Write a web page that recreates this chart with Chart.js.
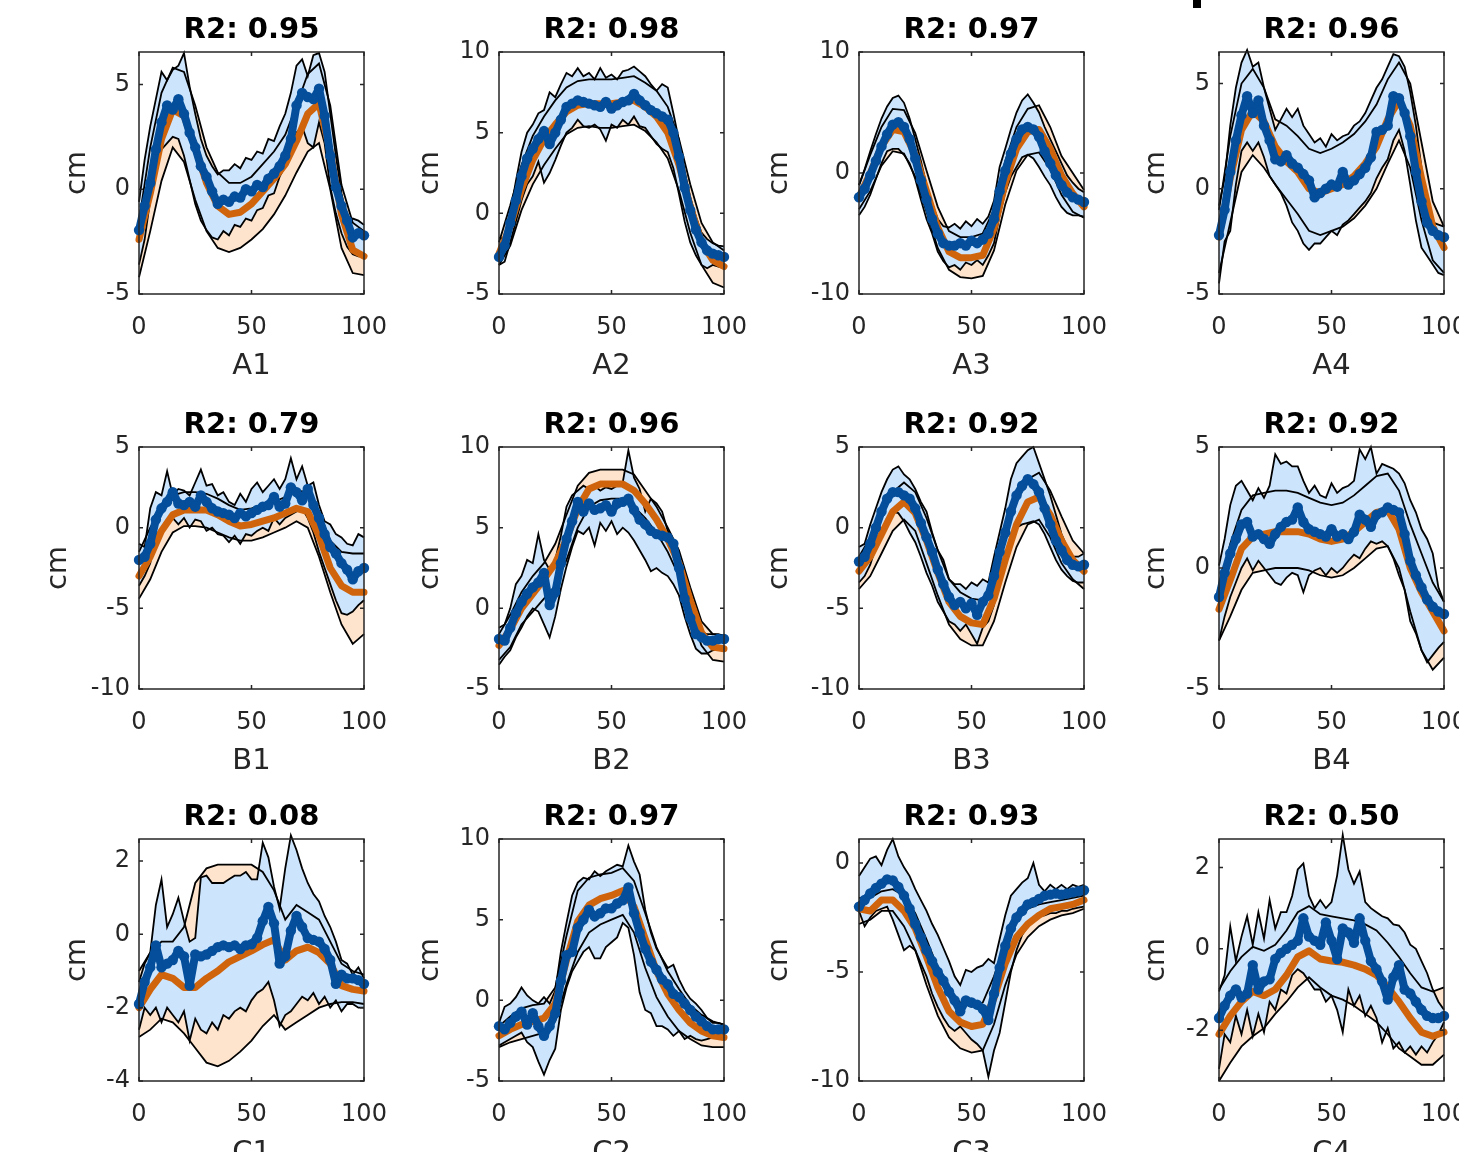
<!DOCTYPE html>
<html>
<head>
<meta charset="utf-8">
<title>R2 panels</title>
<script src="https://cdn.jsdelivr.net/npm/chart.js@4.4.1/dist/chart.umd.min.js"></script>
<style>
  html, body { margin: 0; padding: 0; background: #fff; overflow: hidden; }
  body { width: 1459px; height: 1152px; position: relative; }
  canvas.panel { position: absolute; }
  #mark { position: absolute; left: 1193px; top: 0; width: 8px; height: 8px; background: #000; }
</style>
</head>
<body>
<div id="mark"></div>
<script>
// x positions (percent of cycle)
const xsOrange = [0,5,10,15,20,25,30,35,40,45,50,55,60,65,70,75,80,85,90,95,100];
const xsBlue = [0,2.5,5,7.5,10,12.5,15,17.5,20,22.5,25,27.5,30,32.5,35,37.5,40,42.5,45,47.5,
                50,52.5,55,57.5,60,62.5,65,67.5,70,72.5,75,77.5,80,82.5,85,87.5,90,92.5,95,97.5,100];

// ---- A1
const a1OrangeMean = [-2.4,-0.2,2.4,3.8,3.5,2.0,0.3,-0.8,-1.2,-1.1, -0.7,-0.1,0.5,1.2,2.3,3.6,4.1,1.8,-1.2,-2.9, -3.2];
const a1OrangeHi = [-1.5,2.0,4.6,5.8,5.6,4.0,2.0,0.8,0.3,0.3, 0.6,1.2,1.8,2.6,4.0,5.5,6.0,4.0,0.2,-1.6, -2.0];
const a1OrangeLo = [-4.2,-2.0,0.4,2.0,1.3,-0.5,-2.0,-2.8,-3.0,-2.8, -2.4,-1.9,-1.2,-0.3,0.8,1.8,2.2,0.0,-2.8,-4.0, -4.1];
const a1BlueMean = [
  -1.95,-0.8,0.3,1.9,3.2,4.0,3.8,4.3,3.6,2.7,
  2.0,1.1,0.6,-0.1,-0.7,-0.5,-0.6,-0.35,-0.4,0.0,
  -0.1,0.2,0.1,0.5,0.75,1.1,1.6,2.4,4.0,4.6,
  4.4,4.3,4.8,3.5,1.6,0.1,-0.8,-1.5,-2.3,-2.1,
  -2.2];
const a1BlueHi = [
  -0.6,1.4,3.0,4.3,5.6,5.2,5.7,5.9,6.5,4.9,
  3.6,2.4,1.6,1.1,0.7,0.9,0.9,1.2,1.0,1.5,
  1.4,1.8,1.7,2.4,2.3,3.0,3.6,4.6,5.9,6.2,
  5.4,6.4,6.5,5.6,3.6,1.6,-0.2,-1.5,-1.4,-1.5,
  -1.7];
const a1BlueLo = [
  -3.6,-2.4,-0.5,1.1,1.9,2.2,2.5,2.4,1.6,0.45,
  -0.7,-1.5,-1.95,-2.3,-2.4,-2.0,-2.2,-1.7,-1.8,-1.4,
  -1.5,-1.0,-0.9,-0.3,-0.2,0.6,1.1,1.7,2.7,3.0,
  2.2,2.0,3.2,2.2,0.1,-1.15,-2.1,-2.75,-3.1,-3.2,
  -3.2];

// ---- A2
const a2OrangeMean = [-2.5,-0.8,1.5,3.3,4.6,5.5,6.3,6.7,6.8,6.8, 6.8,6.9,7.0,6.6,6.0,5.0,3.0,0.4,-1.8,-2.9, -3.3];
const a2OrangeHi = [-1.8,0.5,3.0,4.8,6.0,7.0,7.8,8.2,8.3,8.3, 8.3,8.4,8.5,8.1,7.6,6.6,4.6,1.8,-0.6,-1.8, -2.3];
const a2OrangeLo = [-3.2,-2.0,0.2,1.8,3.0,4.0,4.9,5.3,5.4,5.3, 5.3,5.4,5.5,5.1,4.4,3.4,1.4,-1.2,-3.2,-4.3, -4.6];
const a2BlueMean = [
  -2.7,-2.0,-0.6,0.8,2.3,3.4,4.0,4.6,5.1,4.3,
  5.0,5.8,6.6,6.8,7.0,6.9,6.8,6.7,6.6,6.9,
  6.5,6.7,6.9,7.0,7.4,7.0,6.7,6.4,6.2,6.0,
  5.8,5.0,3.5,1.6,0.2,-1.0,-1.8,-2.3,-2.5,-2.6,
  -2.7];
const a2BlueHi = [
  -1.5,-1.6,0.0,2.0,3.8,5.0,5.5,6.2,6.4,7.5,
  7.2,8.0,8.7,8.5,9.0,8.5,8.7,8.3,9.0,8.4,
  8.6,8.3,8.8,8.9,9.1,8.8,8.5,8.0,7.6,8.0,
  7.8,6.2,4.5,2.6,1.0,-0.2,-1.2,-1.6,-1.85,-2.0,
  -2.05];
const a2BlueLo = [
  -3.2,-3.0,-1.8,-0.5,0.8,1.8,2.3,3.2,1.9,2.5,
  3.3,4.2,5.0,5.3,5.8,5.4,5.3,5.5,5.2,4.5,
  5.5,5.3,5.8,5.5,6.0,5.4,5.3,4.8,4.3,4.0,
  3.8,2.8,1.2,-0.5,-1.8,-2.6,-3.2,-3.4,-3.2,-3.3,
  -3.4];

// ---- A3
const a3OrangeMean = [-2.0,0.0,2.2,3.6,3.4,1.5,-1.5,-4.5,-6.5,-7.0, -7.0,-6.8,-4.6,-0.8,2.0,3.4,3.6,2.0,-0.2,-1.7, -2.8];
const a3OrangeHi = [-1.0,1.5,3.8,5.3,5.2,3.3,0.2,-2.8,-4.8,-5.3, -5.3,-5.0,-3.0,1.0,3.8,5.3,5.6,3.8,1.4,0.0, -1.4];
const a3OrangeLo = [-3.0,-1.5,0.6,1.8,1.6,-0.3,-3.2,-6.2,-8.0,-8.6, -8.7,-8.5,-6.4,-2.6,0.2,1.5,1.7,0.3,-1.8,-3.2, -3.7];
const a3BlueMean = [
  -2.0,-1.3,-0.2,1.0,2.2,3.2,4.0,4.2,3.8,2.8,
  1.2,-0.6,-2.2,-3.8,-5.0,-5.8,-6.0,-6.0,-5.8,-6.0,
  -5.6,-5.8,-5.5,-5.0,-3.8,-1.5,0.2,1.6,2.8,3.6,
  3.8,3.6,3.0,1.8,0.8,-0.2,-1.0,-1.6,-2.0,-2.2,
  -2.4];
const a3BlueHi = [
  -1.0,0.3,1.8,3.2,4.5,5.5,6.2,6.4,5.8,4.5,
  2.8,1.0,-1.0,-2.5,-3.8,-4.4,-4.5,-4.2,-4.6,-4.0,
  -4.4,-3.8,-4.2,-3.6,-2.3,0.5,2.0,3.6,5.0,6.0,
  6.5,5.8,5.0,3.8,2.8,1.8,0.8,-0.2,-0.8,-1.3,
  -1.6];
const a3BlueLo = [
  -3.5,-2.8,-1.8,-0.5,0.8,1.8,2.0,2.0,1.5,0.8,
  -0.5,-2.2,-3.8,-5.0,-6.5,-7.3,-7.8,-7.6,-8.0,-7.4,
  -7.6,-7.2,-7.6,-6.8,-5.8,-3.5,-1.6,-0.3,0.5,1.3,
  1.5,1.2,0.5,-0.3,-1.0,-2.0,-2.8,-3.3,-3.5,-3.5,
  -3.6];

// ---- A4
const a4OrangeMean = [-2.3,0.5,2.8,3.7,3.2,2.0,1.3,0.8,0.0,-0.2, 0.0,0.2,0.6,1.2,2.0,3.3,4.2,3.0,0.5,-1.8, -2.8];
const a4OrangeHi = [-1.0,2.5,5.0,5.7,4.8,3.3,3.0,2.5,1.9,1.7, 1.9,2.2,2.6,3.2,4.0,5.2,6.0,5.0,2.2,-0.6, -1.8];
const a4OrangeLo = [-4.0,-1.6,0.8,1.6,1.0,0.2,-0.5,-1.2,-2.0,-2.2, -2.0,-1.8,-1.4,-0.8,0.0,1.2,2.3,1.0,-1.5,-3.4, -4.0];
const a4BlueMean = [
  -2.2,-1.0,0.8,2.3,3.5,4.4,3.6,4.2,3.0,2.3,
  1.4,1.3,1.6,1.2,1.0,0.7,0.4,-0.4,-0.2,0.0,
  0.2,0.1,0.8,0.2,0.4,0.7,1.0,1.5,2.7,2.8,
  3.0,4.4,4.3,3.6,2.5,0.8,-0.6,-1.6,-2.0,-2.2,
  -2.3];
const a4BlueHi = [
  -0.8,0.5,3.0,4.8,6.0,6.6,5.8,6.0,4.8,3.8,
  2.8,3.3,3.8,3.4,3.8,3.0,2.6,2.2,2.4,2.0,
  2.6,2.3,2.5,2.6,3.0,3.2,3.6,4.2,4.8,5.2,
  5.8,6.4,6.3,5.8,4.6,3.0,1.0,-0.6,-1.6,-1.7,
  -1.8];
const a4BlueLo = [
  -4.5,-2.5,-2.0,0.2,1.8,2.2,1.8,2.2,1.5,0.6,
  0.2,-0.2,-0.8,-1.6,-2.0,-2.6,-2.9,-2.6,-2.6,-2.3,
  -2.0,-2.2,-1.7,-1.5,-1.2,-0.9,-0.6,-0.2,0.5,1.0,
  1.4,2.3,2.8,1.8,0.2,-1.5,-2.8,-3.2,-3.6,-4.0,
  -4.1];

// ---- B1
const b1OrangeMean = [-3.0,-1.8,-0.2,0.8,1.1,1.1,1.1,0.8,0.4,0.1, 0.2,0.4,0.6,0.9,1.2,1.0,-0.5,-2.5,-3.6,-4.0, -4.0];
const b1OrangeHi = [-1.5,0.0,1.2,2.0,2.2,2.2,2.1,1.8,1.4,1.1, 1.2,1.4,1.6,1.9,2.3,2.2,1.0,-0.8,-1.5,-1.6, -1.6];
const b1OrangeLo = [-4.4,-3.2,-1.5,-0.3,0.1,0.1,0.0,-0.3,-0.6,-0.8, -0.8,-0.6,-0.3,0.0,0.4,0.0,-1.8,-4.0,-6.0,-7.2, -6.6];
const b1BlueMean = [
  -2.0,-1.8,-1.0,0.5,1.2,1.6,2.2,1.5,1.4,1.6,
  1.3,2.0,1.6,1.2,1.0,0.9,0.8,0.6,0.9,0.7,
  0.9,1.1,1.3,1.4,1.9,1.3,1.5,2.5,2.2,1.7,
  2.4,1.4,0.6,-0.4,-1.2,-1.6,-2.2,-2.6,-3.2,-2.7,
  -2.5];
const b1BlueHi = [
  -1.0,-1.2,1.2,2.2,2.0,3.5,2.0,2.4,2.3,2.0,
  2.8,3.6,2.6,2.7,2.0,2.2,1.6,1.4,2.1,1.6,
  2.4,2.8,2.2,2.6,3.0,2.4,3.0,4.3,3.0,3.8,
  2.6,2.8,1.4,0.4,0.2,-0.4,-0.6,-1.0,-1.1,-0.4,
  -0.6];
const b1BlueLo = [
  -3.6,-3.0,-2.2,-0.5,0.0,0.5,0.6,0.2,0.6,0.0,
  0.5,0.4,-0.2,0.0,-0.4,-0.5,-0.9,-0.5,-1.0,-0.4,
  -0.5,-0.2,0.0,-0.2,0.6,0.2,0.6,0.8,1.0,1.2,
  0.6,-0.3,-1.5,-2.5,-3.5,-4.5,-5.3,-5.4,-5.2,-4.8,
  -4.5];

// ---- B2
const b2OrangeMean = [-2.3,-1.3,0.0,0.9,1.8,2.8,4.3,6.2,7.4,7.7, 7.7,7.7,7.3,6.5,5.5,4.3,2.8,0.5,-1.5,-2.4, -2.5];
const b2OrangeHi = [-1.6,-0.4,1.0,2.0,2.8,4.0,5.8,7.6,8.4,8.6, 8.6,8.6,8.3,7.3,6.3,5.0,3.6,1.3,-0.8,-1.6, -1.7];
const b2OrangeLo = [-3.2,-2.4,-1.0,-0.2,0.6,1.4,3.0,5.0,6.3,6.7, 6.8,6.8,6.3,5.6,4.7,3.5,2.0,-0.3,-2.3,-3.2, -3.3];
const b2BlueMean = [
  -1.9,-2.0,-1.2,-0.3,0.4,0.9,1.3,1.6,2.2,0.2,
  1.0,2.8,4.3,5.4,6.6,6.0,6.5,6.1,6.2,6.4,
  6.0,6.5,6.6,6.8,6.1,5.5,5.2,4.8,4.6,4.5,
  4.4,4.0,2.5,0.6,-0.6,-1.6,-1.8,-2.0,-2.0,-1.9,
  -1.9];
const b2BlueHi = [
  -1.2,-1.0,0.0,1.5,2.0,3.0,2.8,4.6,3.0,2.4,
  3.0,4.5,6.3,7.0,7.3,7.6,7.4,7.6,7.3,7.5,
  7.4,7.6,7.8,9.8,8.1,7.4,6.0,6.8,6.5,6.0,
  4.8,4.0,3.0,2.0,0.5,-0.8,-1.5,-1.6,-1.6,-1.6,
  -1.7];
const b2BlueLo = [
  -3.5,-3.0,-2.6,-1.8,-1.2,-0.5,0.0,-0.2,-1.0,-1.8,
  -0.5,1.2,2.6,3.8,4.8,4.6,5.0,3.9,5.3,4.8,
  5.4,4.6,5.0,4.7,4.2,3.6,3.0,2.3,2.5,2.2,
  2.0,1.5,0.8,-0.5,-1.6,-2.5,-2.8,-2.8,-2.6,-2.5,
  -2.4];

// ---- B3
const b3OrangeMean = [-2.7,-1.8,-0.4,1.0,1.6,0.9,-0.8,-2.8,-4.6,-5.5, -5.9,-6.0,-4.4,-2.0,0.2,1.6,1.9,0.8,-0.8,-2.0, -2.7];
const b3OrangeHi = [-1.8,-0.6,0.8,2.2,2.8,2.2,0.6,-1.4,-3.2,-4.0, -4.4,-4.5,-3.0,-0.6,1.6,3.0,3.4,2.3,0.7,-0.8, -1.6];
const b3OrangeLo = [-3.8,-3.0,-1.6,-0.2,0.5,-0.2,-2.2,-4.2,-6.0,-6.9, -7.3,-7.3,-5.8,-3.4,-1.2,0.2,0.5,-0.6,-2.2,-3.2, -3.8];
const b3BlueMean = [
  -2.1,-1.8,-1.0,0.0,1.0,1.8,2.2,2.2,2.0,1.8,
  1.2,0.3,-0.6,-1.5,-2.6,-3.5,-4.3,-4.8,-4.6,-5.0,
  -4.7,-5.4,-4.6,-4.2,-3.0,-1.5,-0.3,1.0,2.0,2.6,
  3.0,2.7,2.2,1.2,0.2,-0.8,-1.4,-2.0,-2.3,-2.4,
  -2.3];
const b3BlueHi = [
  -1.2,-1.0,0.2,1.2,2.2,3.0,3.6,3.8,3.3,3.0,
  2.4,1.6,1.0,-0.3,-1.4,-2.0,-3.2,-3.5,-3.5,-3.8,
  -3.4,-3.6,-3.2,-3.4,-1.8,-0.3,1.2,3.0,4.0,4.4,
  4.8,5.0,4.0,3.0,2.0,0.8,-0.4,-1.2,-1.8,-1.8,
  -1.6];
const b3BlueLo = [
  -3.4,-3.0,-2.3,-1.2,-0.2,0.6,1.0,0.9,0.4,-0.3,
  -0.9,-1.8,-2.8,-3.6,-4.6,-5.2,-5.8,-6.0,-6.4,-6.0,
  -6.6,-7.2,-6.2,-5.8,-4.8,-3.2,-2.0,-0.8,0.0,0.2,
  0.3,0.4,0.2,-0.4,-1.2,-2.0,-2.6,-3.0,-3.3,-3.4,
  -3.4];

// ---- B4
const b4OrangeMean = [-1.7,-0.5,0.8,1.3,1.4,1.5,1.5,1.5,1.4,1.2, 1.1,1.2,1.5,1.9,2.3,2.4,1.6,0.0,-1.0,-1.8, -2.6];
const b4OrangeHi = [-0.8,1.0,2.4,3.0,3.1,3.2,3.2,3.1,2.9,2.7, 2.6,2.7,3.0,3.4,3.8,3.9,3.2,1.8,0.6,-0.6, -1.4];
const b4OrangeLo = [-3.0,-2.0,-0.9,-0.2,-0.1,0.0,0.0,0.0,-0.1,-0.3, -0.4,-0.3,0.0,0.4,0.8,0.9,0.0,-1.8,-3.4,-4.2, -3.7];
const b4BlueMean = [
  -1.2,-0.2,0.6,1.2,1.8,1.9,1.3,1.4,1.2,1.0,
  1.4,1.7,1.9,2.0,2.5,1.9,1.6,1.5,1.4,1.3,
  1.6,1.3,1.4,1.2,1.5,2.2,2.0,1.7,2.2,2.3,
  2.5,2.4,2.3,1.4,0.3,-0.3,-0.8,-1.3,-1.6,-1.8,
  -1.9];
const b4BlueHi = [
  0.1,1.2,2.6,3.4,3.6,3.2,2.8,3.3,2.9,3.4,
  4.7,4.3,4.4,4.2,4.2,3.6,3.1,3.4,3.0,2.9,
  3.5,3.1,3.3,3.4,3.6,4.9,4.5,5.0,3.9,4.3,
  4.2,4.1,3.9,3.5,2.8,2.3,1.6,1.2,0.6,-0.8,
  -1.4];
const b4BlueLo = [
  -3.0,-2.0,-1.2,-0.6,0.0,0.4,-0.1,0.3,0.0,-0.3,
  -0.6,-0.7,-0.4,-0.2,-0.3,-1.0,-0.3,-0.1,0.0,-0.3,
  0.0,-0.2,0.0,0.3,0.55,0.4,0.8,1.1,1.0,1.1,
  0.9,0.4,-0.3,-0.9,-2.2,-2.7,-3.4,-3.9,-3.6,-3.3,
  -3.05];

// ---- C1
const c1OrangeMean = [-2.0,-1.5,-1.1,-1.2,-1.45,-1.45,-1.2,-1.0,-0.75,-0.6, -0.45,-0.28,-0.15,-0.7,-0.45,-0.35,-0.5,-0.8,-1.4,-1.5, -1.55];
const c1OrangeHi = [-1.0,-0.5,-0.2,-0.2,0.2,1.4,1.8,1.9,1.9,1.9, 1.9,1.7,1.2,0.4,0.8,0.6,0.4,-0.2,-0.8,-1.0, -1.1];
const c1OrangeLo = [-2.8,-2.6,-2.3,-2.4,-2.7,-3.1,-3.5,-3.6,-3.45,-3.2, -2.9,-2.5,-2.2,-2.6,-2.4,-2.2,-2.0,-1.9,-1.85,-1.85, -1.9];
const c1BlueMean = [
  -1.9,-1.3,-0.9,-0.3,-0.9,-0.8,-0.7,-0.45,-0.6,-1.4,
  -0.55,-0.6,-0.55,-0.45,-0.35,-0.3,-0.35,-0.3,-0.4,-0.3,
  -0.27,-0.1,0.36,0.75,0.3,-0.8,-0.6,0.1,0.5,0.2,
  -0.1,-0.15,-0.2,-0.4,-0.7,-1.35,-1.1,-1.2,-1.2,-1.25,
  -1.35];
const c1BlueHi = [
  -1.3,-0.8,-0.5,0.8,1.5,0.2,0.55,1.0,0.36,-0.2,
  -0.1,1.55,1.6,1.4,1.4,1.4,1.5,1.6,1.6,1.7,
  1.5,1.5,2.5,2.1,1.3,0.7,1.8,2.7,2.3,1.8,
  1.4,1.1,0.9,0.5,0.2,-0.2,-0.7,-0.8,-1.1,-0.9,
  -1.2];
const c1BlueLo = [
  -2.6,-2.0,-2.2,-2.0,-2.4,-2.0,-2.2,-2.4,-2.1,-2.9,
  -2.3,-2.6,-2.7,-2.4,-2.6,-2.2,-2.3,-2.1,-2.0,-2.1,
  -1.8,-1.6,-1.5,-1.3,-1.8,-2.5,-2.2,-2.1,-1.9,-1.7,
  -1.8,-1.6,-1.9,-1.7,-2.0,-1.8,-2.1,-1.9,-1.9,-2.0,
  -2.0];

// ---- C2
const c2OrangeMean = [-2.2,-1.8,-1.5,-1.3,-1.1,-0.2,2.5,4.9,5.9,6.3, 6.5,6.8,5.8,3.8,1.8,0.4,-0.6,-1.4,-1.9,-2.2, -2.3];
const c2OrangeHi = [-1.6,-1.0,-0.5,-0.3,-0.2,0.8,4.0,6.8,7.6,7.8, 7.9,8.2,7.4,5.4,3.3,1.8,0.7,-0.3,-0.9,-1.3, -1.5];
const c2OrangeLo = [-2.9,-2.6,-2.4,-2.2,-2.0,-1.3,1.0,3.0,4.2,4.7, 5.0,5.3,4.2,2.0,0.2,-1.0,-1.9,-2.4,-2.8,-2.9, -2.9];
const c2BlueMean = [
  -1.6,-1.8,-1.4,-1.0,-0.7,-1.5,-0.8,-1.6,-2.2,-1.6,
  -0.8,1.2,2.8,3.0,4.5,5.0,5.6,5.2,5.4,5.7,
  5.7,6.0,6.2,7.0,5.4,4.2,3.2,2.4,1.9,1.3,
  1.0,0.4,0.2,-0.2,-0.6,-1.0,-1.3,-1.6,-1.8,-1.8,
  -1.8];
const c2BlueHi = [
  -1.4,-0.4,-0.2,0.2,0.8,0.3,0.0,-0.2,0.2,-0.2,
  0.6,3.0,4.8,6.5,7.3,7.6,7.5,8.0,7.7,8.0,
  8.2,8.4,8.3,9.6,8.6,7.8,5.6,4.2,3.2,2.6,
  2.0,2.2,1.3,0.6,0.1,-0.2,-0.6,-1.1,-1.4,-1.4,
  -1.5];
const c2BlueLo = [
  -2.8,-2.6,-2.4,-2.2,-2.0,-2.6,-2.9,-3.8,-4.6,-3.7,
  -3.0,-0.6,0.8,1.8,2.4,3.0,3.3,2.6,2.6,3.3,
  3.6,3.9,4.8,4.5,2.8,0.5,-0.6,-0.8,-1.6,-1.6,
  -1.8,-2.2,-1.9,-2.4,-2.2,-2.4,-2.5,-2.4,-2.3,-2.2,
  -2.2];

// ---- C3
const c3OrangeMean = [-2.1,-2.2,-1.7,-1.7,-2.2,-3.0,-4.3,-5.7,-6.8,-7.3, -7.5,-7.4,-6.2,-4.6,-3.4,-2.8,-2.4,-2.1,-2.0,-1.9, -1.7];
const c3OrangeHi = [-1.6,-1.6,-1.3,-1.2,-1.5,-2.3,-3.5,-4.8,-5.9,-6.4, -6.6,-6.4,-5.2,-3.7,-2.6,-2.1,-1.9,-1.8,-1.7,-1.6, -1.5];
const c3OrangeLo = [-2.8,-2.6,-2.2,-2.2,-2.9,-4.0,-5.6,-7.0,-8.0,-8.5, -8.7,-8.6,-7.4,-5.6,-4.2,-3.4,-2.9,-2.6,-2.4,-2.3, -2.1];
const c3BlueMean = [
  -2.0,-1.7,-1.4,-1.15,-0.95,-0.75,-0.8,-1.1,-1.5,-2.1,
  -2.8,-3.4,-4.0,-4.5,-5.0,-5.4,-5.9,-6.3,-6.8,-6.3,
  -6.4,-6.5,-6.7,-7.2,-6.0,-4.8,-3.8,-3.0,-2.5,-2.2,
  -1.9,-1.8,-1.65,-1.5,-1.45,-1.4,-1.45,-1.4,-1.35,-1.3,
  -1.25];
const c3BlueHi = [
  -0.6,-0.2,0.2,0.3,-0.1,0.6,1.1,0.3,-0.2,-0.6,
  -1.2,-1.7,-2.2,-2.8,-3.3,-3.9,-4.5,-5.2,-5.6,-4.9,
  -5.0,-4.8,-4.7,-4.4,-4.6,-3.5,-2.4,-1.5,-1.2,-0.9,
  -0.7,0.0,-1.0,-1.3,-1.0,-1.2,-1.0,-1.2,-1.0,-1.1,
  -1.0];
const c3BlueLo = [
  -2.2,-2.9,-2.5,-2.2,-2.1,-2.0,-2.6,-3.3,-4.0,-3.8,
  -4.0,-4.6,-5.2,-6.0,-6.6,-7.1,-7.5,-7.7,-7.5,-7.8,
  -8.1,-8.3,-8.6,-9.8,-8.6,-7.8,-6.4,-5.0,-4.0,-3.3,
  -2.9,-2.6,-2.45,-2.4,-2.3,-2.3,-2.2,-2.2,-2.1,-2.05,
  -2.0];

// ---- C4
const c4OrangeMean = [-2.1,-1.65,-1.3,-1.05,-1.15,-1.0,-0.65,-0.2,-0.05,-0.25, -0.3,-0.33,-0.4,-0.5,-0.65,-0.95,-1.3,-1.7,-2.05,-2.15, -2.05];
const c4OrangeHi = [-1.0,-0.55,-0.2,0.05,-0.05,0.1,0.45,0.9,1.05,0.85, 0.8,0.75,0.7,0.6,0.45,0.15,-0.2,-0.6,-0.95,-1.05, -0.95];
const c4OrangeLo = [-3.25,-2.8,-2.4,-2.15,-1.95,-1.6,-1.3,-0.95,-0.7,-0.95, -1.15,-1.25,-1.4,-1.6,-1.8,-2.1,-2.45,-2.65,-2.85,-2.85, -2.6];
const c4BlueMean = [
  -1.7,-1.4,-1.15,-1.0,-1.2,-1.1,-0.4,-1.0,-0.8,-0.75,
  -0.25,-0.1,0.0,0.1,0.2,0.75,0.3,0.2,0.1,0.65,
  0.2,-0.25,0.5,0.4,0.15,0.75,0.2,-0.3,-0.5,-0.8,
  -1.25,-0.7,-0.4,-1.0,-1.1,-1.3,-1.5,-1.65,-1.7,-1.7,
  -1.65];
const c4BlueHi = [
  -1.05,-0.65,0.55,-0.3,0.3,0.8,0.1,0.9,0.25,1.2,
  0.5,0.9,0.9,1.3,1.95,2.1,1.3,1.0,1.2,1.0,
  1.15,1.8,2.8,1.95,1.6,1.9,1.15,1.0,0.9,0.8,
  0.75,0.6,0.57,0.4,0.1,0.0,-0.3,-0.6,-1.0,-1.3,
  -1.5];
const c4BlueLo = [
  -2.95,-2.1,-2.3,-1.65,-2.1,-1.5,-2.15,-1.6,-2.05,-1.3,
  -1.5,-1.0,-1.1,-0.65,-0.5,-0.6,-0.8,-1.0,-1.0,-1.3,
  -1.15,-1.5,-2.05,-1.0,-1.4,-1.15,-1.65,-1.4,-1.7,-2.3,
  -1.95,-2.45,-2.3,-2.55,-2.4,-2.6,-2.4,-2.55,-2.3,-2.1,
  -1.8];

// panel list: label, R2, y range, tick step
const panels = [
  { name: 'A1', r2: '0.95', yMin: -5, yMax: 6.55, yStep: 5, o: [a1OrangeLo, a1OrangeHi, a1OrangeMean], b: [a1BlueLo, a1BlueHi, a1BlueMean] },
  { name: 'A2', r2: '0.98', yMin: -5, yMax: 10, yStep: 5, o: [a2OrangeLo, a2OrangeHi, a2OrangeMean], b: [a2BlueLo, a2BlueHi, a2BlueMean] },
  { name: 'A3', r2: '0.97', yMin: -10, yMax: 10, yStep: 10, o: [a3OrangeLo, a3OrangeHi, a3OrangeMean], b: [a3BlueLo, a3BlueHi, a3BlueMean] },
  { name: 'A4', r2: '0.96', yMin: -5, yMax: 6.5, yStep: 5, o: [a4OrangeLo, a4OrangeHi, a4OrangeMean], b: [a4BlueLo, a4BlueHi, a4BlueMean] },
  { name: 'B1', r2: '0.79', yMin: -10, yMax: 5, yStep: 5, o: [b1OrangeLo, b1OrangeHi, b1OrangeMean], b: [b1BlueLo, b1BlueHi, b1BlueMean] },
  { name: 'B2', r2: '0.96', yMin: -5, yMax: 10, yStep: 5, o: [b2OrangeLo, b2OrangeHi, b2OrangeMean], b: [b2BlueLo, b2BlueHi, b2BlueMean] },
  { name: 'B3', r2: '0.92', yMin: -10, yMax: 5, yStep: 5, o: [b3OrangeLo, b3OrangeHi, b3OrangeMean], b: [b3BlueLo, b3BlueHi, b3BlueMean] },
  { name: 'B4', r2: '0.92', yMin: -5, yMax: 5, yStep: 5, o: [b4OrangeLo, b4OrangeHi, b4OrangeMean], b: [b4BlueLo, b4BlueHi, b4BlueMean] },
  { name: 'C1', r2: '0.08', yMin: -4, yMax: 2.6, yStep: 2, o: [c1OrangeLo, c1OrangeHi, c1OrangeMean], b: [c1BlueLo, c1BlueHi, c1BlueMean] },
  { name: 'C2', r2: '0.97', yMin: -5, yMax: 10, yStep: 5, o: [c2OrangeLo, c2OrangeHi, c2OrangeMean], b: [c2BlueLo, c2BlueHi, c2BlueMean] },
  { name: 'C3', r2: '0.93', yMin: -10, yMax: 1.1, yStep: 5, o: [c3OrangeLo, c3OrangeHi, c3OrangeMean], b: [c3BlueLo, c3BlueHi, c3BlueMean] },
  { name: 'C4', r2: '0.50', yMin: -3.25, yMax: 2.7, yStep: 2, o: [c4OrangeLo, c4OrangeHi, c4OrangeMean], b: [c4BlueLo, c4BlueHi, c4BlueMean] }
];

// layout: plot box positions and distance of the "cm" label from the box
const colLeft = [139, 499, 859, 1219];
const rowTop = [52, 447, 839];
const cmGap = [60, 67, 78, 61, 79, 67, 78, 61, 60, 67, 78, 61];

const peach = 'rgb(254,228,204)';
const lightBlue = 'rgb(204,228,252)';
const orange = 'rgb(207,100,12)';
const blue = 'rgb(4,78,155)';
const textGray = '#262626';

Chart.defaults.font.family = "'DejaVu Sans', sans-serif";

const pts = (xs, ys) => xs.map((x, i) => ({ x: x, y: ys[i] }));

// box around the plot with inward ticks, like the original axes
const axesBox = {
  id: 'axesBox',
  afterDatasetsDraw(chart) {
    const { ctx, chartArea: a, scales } = chart;
    ctx.save();
    ctx.strokeStyle = textGray;
    ctx.lineWidth = 1.5;
    ctx.beginPath();
    scales.x.ticks.forEach(t => {
      const px = scales.x.getPixelForValue(t.value);
      ctx.moveTo(px, a.bottom); ctx.lineTo(px, a.bottom - 4);
      ctx.moveTo(px, a.top); ctx.lineTo(px, a.top + 4);
    });
    scales.y.ticks.forEach(t => {
      const py = scales.y.getPixelForValue(t.value);
      ctx.moveTo(a.left, py); ctx.lineTo(a.left + 4, py);
      ctx.moveTo(a.right, py); ctx.lineTo(a.right - 4, py);
    });
    ctx.stroke();
    ctx.strokeRect(a.left, a.top, a.right - a.left, a.bottom - a.top);
    ctx.restore();
  }
};

panels.forEach((p, k) => {
  const col = k % 4, row = Math.floor(k / 4);
  const cv = document.createElement('canvas');
  cv.className = 'panel';
  cv.width = 378;
  cv.height = 390;
  cv.style.left = (colLeft[col] - 110) + 'px';
  cv.style.top = (rowTop[row] - 52) + 'px';
  document.body.appendChild(cv);

  const edge = (xs, ys, order, fill, bg) => ({
    data: pts(xs, ys), borderColor: '#000', borderWidth: 1.8, pointRadius: 0,
    fill: fill, backgroundColor: bg, order: order, clip: false
  });

  new Chart(cv, {
    type: 'line',
    data: {
      datasets: [
        edge(xsOrange, p.o[0], 6, false, 'transparent'),
        edge(xsOrange, p.o[1], 5, '-1', peach),
        edge(xsBlue, p.b[0], 4, false, 'transparent'),
        edge(xsBlue, p.b[1], 3, '-1', lightBlue),
        {
          data: pts(xsOrange, p.o[2]), borderColor: orange, borderWidth: 7,
          borderJoinStyle: 'round', borderCapStyle: 'round', pointRadius: 0, order: 2, clip: false
        },
        {
          data: pts(xsBlue, p.b[2]), borderColor: blue, borderWidth: 8,
          borderJoinStyle: 'round', borderCapStyle: 'round',
          pointRadius: 5.2, pointBackgroundColor: blue, pointBorderWidth: 0, order: 1, clip: false
        }
      ]
    },
    options: {
      responsive: false,
      animation: false,
      devicePixelRatio: 1,
      events: [],
      layout: { padding: { left: 0, right: 43, top: 0, bottom: 0 } },
      plugins: {
        legend: { display: false },
        tooltip: { enabled: false },
        filler: { drawTime: 'beforeDatasetsDraw' },
        title: {
          display: true, text: 'R2: ' + p.r2, fullSize: false, color: '#000',
          font: { size: 29, weight: 'bold' }, padding: { top: 13, bottom: 4.2 }
        }
      },
      scales: {
        x: {
          type: 'linear', min: 0, max: 100,
          afterFit(s) { s.height = 96; },
          grid: { display: false, drawTicks: false },
          border: { display: false },
          ticks: { stepSize: 50, padding: 19.5, color: textGray, font: { size: 24 }, autoSkip: false, maxRotation: 0 },
          title: { display: true, text: p.name, color: textGray, font: { size: 29 }, padding: { top: 0, bottom: 6 } }
        },
        y: {
          min: p.yMin, max: p.yMax,
          afterFit(s) { s.width = 110; },
          grid: { display: false, drawTicks: false },
          border: { display: false },
          ticks: { stepSize: p.yStep, includeBounds: false, padding: 9, color: textGray, font: { size: 24 } },
          title: { display: true, text: 'cm', color: textGray, font: { size: 29 }, padding: { top: 90.6 - cmGap[k], bottom: 0 } }
        }
      }
    },
    plugins: [axesBox]
  });
});
</script>
</body>
</html>
